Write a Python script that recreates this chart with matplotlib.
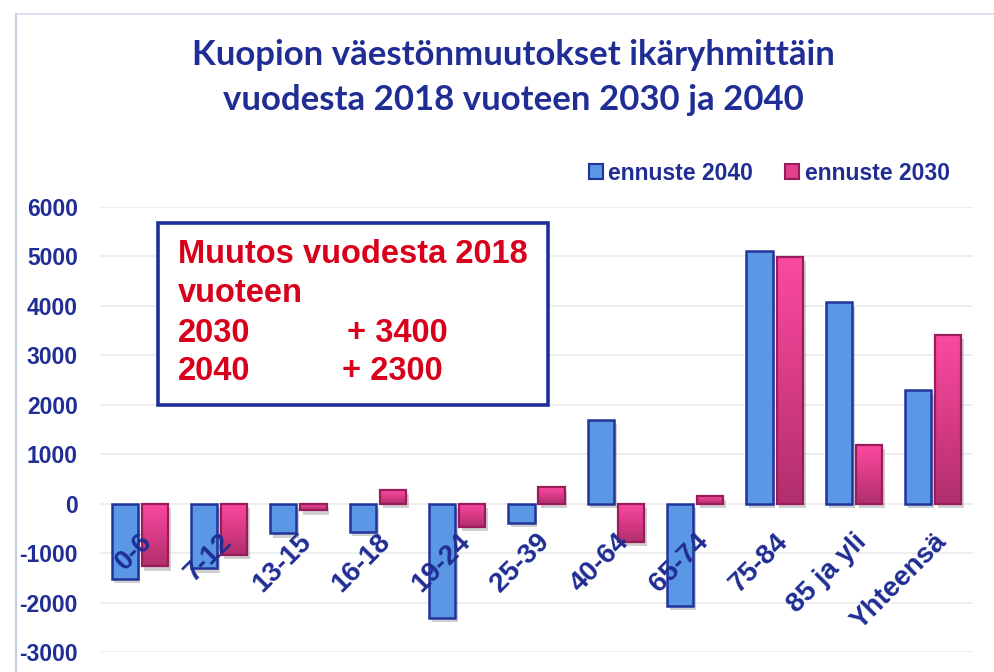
import numpy as np
import matplotlib
matplotlib.use("Agg")
import matplotlib.pyplot as plt
import matplotlib.patheffects as pe
from matplotlib.colors import LinearSegmentedColormap
from matplotlib.patches import Patch, Rectangle
from matplotlib.lines import Line2D

categories = ["0-6", "7-12", "13-15", "16-18", "19-24", "25-39", "40-64",
              "65-74", "75-84", "85 ja yli", "Yhteensä"]
ennuste_2040 = [-1520, -1310, -600, -575, -2310, -390, 1690, -2070, 5110, 4070, 2290]
ennuste_2030 = [-1270, -1040, -135, 270, -470, 340, -780, 160, 4990, 1180, 3410]
series_names = ["ennuste 2040", "ennuste 2030"]
yticks = list(range(-3000, 6001, 1000))

title_lines = ["Kuopion väestönmuutokset ikäryhmittäin",
               "vuodesta 2018 vuoteen 2030 ja 2040"]
box_lines = ["Muutos vuodesta 2018", "vuoteen"]
box_rows = [("2030", "+ 3400"), ("2040", "+ 2300")]

NAVY = "#1f2d94"
BLUE_FACE = "#5a97e4"
BLUE_EDGE = "#22349c"
PINK_EDGE = "#9a1c5a"
RED = "#d9001b"

W, H = 995, 672
fig = plt.figure(figsize=(W / 100, H / 100), dpi=100)
fig.patch.set_facecolor("white")

def fx(px):
    return px / W

def fy(py):
    return 1 - py / H

ax = fig.add_axes([fx(100), fy(652), fx(973) - fx(100), fy(207) - fy(652)])

x = np.arange(len(categories))
bw = 0.33
off = 0.19
shadow = [pe.SimplePatchShadow(offset=(2, -3), shadow_rgbFace="#7a7a7a", alpha=0.35), pe.Normal()]

b1 = ax.bar(x - off, ennuste_2040, bw, color=BLUE_FACE, edgecolor=BLUE_EDGE,
            linewidth=1.8, zorder=3)
for r in b1:
    r.set_path_effects(shadow)

b2 = ax.bar(x + off, ennuste_2030, bw, color="#d83f88", edgecolor="none", zorder=3)
for r in b2:
    r.set_path_effects(shadow)

cmap = LinearSegmentedColormap.from_list("pk", ["#b02f6c", "#d93b86", "#fb4aa0"])
grad = np.linspace(0, 1, 256).reshape(-1, 1)
for r in b2:
    x0, y0 = r.get_xy()
    w, h = r.get_width(), r.get_height()
    im = ax.imshow(grad, extent=[x0, x0 + w, min(y0, y0 + h), max(y0, y0 + h)],
                   origin="lower", aspect="auto", cmap=cmap, zorder=4)
    im.set_clip_path(r)
ax.bar(x + off, ennuste_2030, bw, facecolor="none", edgecolor=PINK_EDGE,
       linewidth=1.6, zorder=5)

ax.set_xlim(-0.5, len(categories) - 0.5)
ax.set_ylim(-3000, 6000)
ax.set_yticks(yticks)
ax.set_yticklabels([str(v) for v in yticks])
ax.yaxis.grid(True, color="#ededed", linewidth=1.3)
ax.set_axisbelow(True)
ax.xaxis.set_zorder(10)
for s in ax.spines.values():
    s.set_visible(False)
ax.spines["bottom"].set_position(("data", 0))

ax.set_xticks(x)
ax.set_xticklabels(categories, rotation=45, ha="right", va="top",
                   rotation_mode="anchor")
ax.tick_params(axis="x", length=0, pad=18, labelsize=20, labelcolor=NAVY)
ax.tick_params(axis="y", length=0, pad=16, labelsize=16.5, labelcolor=NAVY)
for lab in ax.get_xticklabels() + ax.get_yticklabels():
    lab.set_fontfamily("Liberation Sans")
    lab.set_fontweight("bold")

# title
for i, line in enumerate(title_lines):
    fig.text(fx(513), fy(55 + 45 * i), line, ha="center", va="center",
             fontsize=25, fontweight="bold", color=NAVY, family="Lato")

# legend
handles = [Patch(facecolor=BLUE_FACE, edgecolor=BLUE_EDGE, linewidth=1.5),
           Patch(facecolor="#e2418e", edgecolor=PINK_EDGE, linewidth=1.5)]
fig.legend(handles, series_names, loc="center left",
           bbox_to_anchor=(fx(589), fy(173)), ncol=2, frameon=False,
           handlelength=0.6, handleheight=0.6, handletextpad=0.25,
           columnspacing=1.4, borderpad=0, borderaxespad=0,
           prop={"family": "Liberation Sans", "weight": "bold", "size": 16.5},
           labelcolor=NAVY)

# annotation box
fig.add_artist(Rectangle((fx(158), fy(405)), fx(548) - fx(158), fy(223) - fy(405),
                         transform=fig.transFigure, facecolor="white",
                         edgecolor="#1f2f99", linewidth=2.6, zorder=6))
tkw = dict(fontsize=23.5, fontweight="bold", color=RED, family="Liberation Sans",
           va="baseline", ha="left", zorder=7)
fig.text(fx(178), fy(263), box_lines[0], **tkw)
fig.text(fx(178), fy(302), box_lines[1], **tkw)
fig.text(fx(178), fy(342), box_rows[0][0], **tkw)
fig.text(fx(347), fy(342), box_rows[0][1], **tkw)
fig.text(fx(178), fy(380), box_rows[1][0], **tkw)
fig.text(fx(342), fy(380), box_rows[1][1], **tkw)

# outer chart frame
fig.add_artist(Line2D([fx(16), fx(16)], [0, fy(14)], transform=fig.transFigure,
                      color="#c9d0e0", linewidth=1.6))
fig.add_artist(Line2D([fx(16), 1], [fy(14), fy(14)], transform=fig.transFigure,
                      color="#d5dae6", linewidth=1.2))

fig.savefig("out.png", dpi=100)
